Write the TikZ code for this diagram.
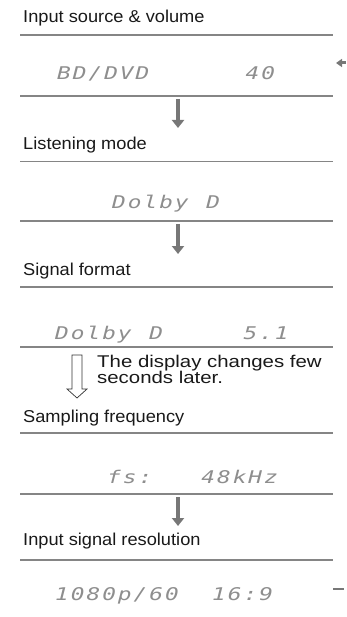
\documentclass[tikz,border=0pt]{standalone}
\usepackage{fontspec}
\setmainfont{Liberation Sans}[FakeStretch=1.06]
\newfontfamily\notefont{Liberation Sans}[FakeStretch=1.2]
\newfontfamily\lcdfont{DejaVu Sans Mono}[FakeStretch=1.3]
\usetikzlibrary{arrows.meta}
\definecolor{sepgray}{HTML}{858585}
\definecolor{arrgray}{HTML}{777777}
\definecolor{lcdgray}{HTML}{8E8E8E}
\ExplSyntaxOn
\NewDocumentCommand\lcdtext{m}{\tl_map_inline:nn {#1} {\makebox[15.7pt][c]{##1}}}
\ExplSyntaxOff
\tikzset{
  title/.style={anchor=base west, inner sep=0pt, font=\fontsize{17.2}{19}\selectfont, text=black!90},
  note/.style={anchor=base west, inner sep=0pt, font=\notefont\fontsize{17}{19}\selectfont, text=black!90},
  lcd/.style={anchor=base west, inner sep=0pt, font=\lcdfont\itshape\fontsize{17.5}{19}\selectfont, text=lcdgray},
  sep/.style={draw=sepgray, line width=1.3pt},
  solidarrow/.style={draw=arrgray, line width=4pt, -{Triangle[width=12pt,length=8pt]}},
  openarrow/.style={draw=black!80, line width=0.7pt, fill=white},
  sidemark/.style={draw=arrgray, line width=2.5pt}
}
\begin{document}
\begin{tikzpicture}[x=1pt,y=-1pt]
\useasboundingbox (0,0) rectangle (346,617);
% section 1
\node[title] (t1) at (23,23) {Input source \& volume};
\draw[sep] (20,35) -- (333,35);
\node[lcd] (d1) at (56,80) {\lcdtext{BD/DVD~~~~~~40}};
\draw[sep] (20,96) -- (333,96);
\coordinate (a1s) at (178,99);
\coordinate (a1e) at (178,128);
\draw[solidarrow] (a1s) -- (a1e);
% section 2
\node[title] (t2) at (23,150) {Listening mode};
\draw[sep] (20,161.5) -- (333,161.5);
\node[lcd] (d2) at (111,209) {\lcdtext{Dolby~D}};
\draw[sep] (20,221) -- (333,221);
\coordinate (a2s) at (178,224);
\coordinate (a2e) at (178,254);
\draw[solidarrow] (a2s) -- (a2e);
% section 3
\node[title] (t3) at (23,275) {Signal format};
\draw[sep] (20,287) -- (333,287);
\node[lcd] (d3) at (54,339) {\lcdtext{Dolby~D~~~~~5.1}};
\draw[sep] (20,347) -- (333,347);
\coordinate (oa) at (77,355);
\draw[openarrow] (oa) ++(-5,0) -- ++(10,0) -- ++(0,34) -- ++(5,0) -- ++(-10,9) -- ++(-10,-9) -- ++(5,0) -- cycle;
\node[note] (n1) at (97,367) {The display changes few};
\node[note] (n2) at (97,383) {seconds later.};
% section 4
\node[title] (t4) at (23,422) {Sampling frequency};
\draw[sep] (20,433) -- (333,433);
\node[lcd] (d4) at (106,483) {\lcdtext{fs:~~~48kHz}};
\draw[sep] (20,494) -- (333,494);
\coordinate (a4s) at (178,497);
\coordinate (a4e) at (178,526);
\draw[solidarrow] (a4s) -- (a4e);
% section 5
\node[title] (t5) at (23,545) {Input signal resolution};
\draw[sep] (20,560) -- (333,560);
\node[lcd] (d5) at (54,600) {\lcdtext{1080p/60~~16:9}};
% side marks
\coordinate (m1s) at (346,63);
\coordinate (m1e) at (336,63);
\draw[draw=arrgray, line width=3pt, -{Triangle[width=8pt,length=6pt]}] (m1s) -- (m1e);
\coordinate (m2s) at (333,589);
\coordinate (m2e) at (344,589);
\draw[sidemark] (m2s) -- (m2e);
\end{tikzpicture}
\end{document}
